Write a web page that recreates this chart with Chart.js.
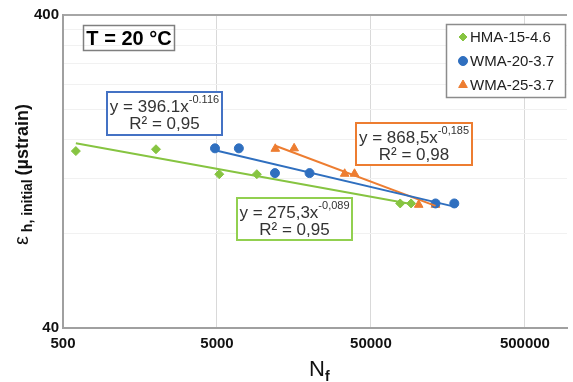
<!DOCTYPE html>
<html>
<head>
<meta charset="utf-8">
<script src="https://cdn.jsdelivr.net/npm/chart.js@4"></script>
<style>
  html, body { margin: 0; padding: 0; background: #fff; }
  #wrap { width: 573px; height: 382px; }
</style>
</head>
<body>
<div id="wrap"><canvas id="chart" width="573" height="382"></canvas></div>
<script>
// tick values
const xTicks = [500, 5000, 50000, 500000];
const yTicks = [40, 80, 120, 160, 200, 240, 280, 320, 360, 400];

// measured points (Nf, strain)
const hmaN = [606, 2008, 5175, 9075, 77450, 91150];
const hmaEps = [147, 149, 124, 124, 100, 100];
const wma20N = [4855, 6936, 11900, 19960, 131300, 173900];
const wma20Eps = [150, 150, 125, 125, 100, 100];
const wma25N = [11960, 15850, 33750, 39100, 102100, 131300];
const wma25Eps = [149.5, 150, 124.4, 124.4, 99, 99];

// fitted power lines, end points
const hmaFitN = [606, 91150];
const hmaFitEps = [155.7, 99.6];
const wma20FitN = [4855, 173900];
const wma20FitEps = [148.0, 97.7];
const wma25FitN = [11960, 131300];
const wma25FitEps = [152.9, 98.2];

const green = '#86c441';
const blue = '#2f6fbf';
const orange = '#ed7d31';
const FONT = '"Liberation Sans", Arial, sans-serif';

const pts = (xs, ys) => xs.map((x, i) => ({ x, y: ys[i] }));

const pointSet = (label, xs, ys, color, style, r) => ({
  label, data: pts(xs, ys), showLine: false,
  pointStyle: style, pointRadius: r, pointHoverRadius: r,
  backgroundColor: color, borderColor: color, borderWidth: 1
});
const fitSet = (xs, ys, color) => ({
  label: 'fit', data: pts(xs, ys), showLine: true, pointRadius: 0,
  borderColor: color, borderWidth: 2, fill: false
});

// boxes, titles and legend drawn on top
const extras = {
  id: 'extras',
  afterDraw(chart) {
    const c = chart.ctx;
    const area = chart.chartArea;
    c.save();
    c.textBaseline = 'alphabetic';

    // T box
    c.strokeStyle = '#7f7f7f'; c.lineWidth = 1.5;
    c.strokeRect(83.5, 25.5, 91, 25);
    c.fillStyle = '#000'; c.font = 'bold 20px ' + FONT; c.textAlign = 'center';
    c.fillText('T = 20 °C', 129, 45);

    // equation boxes
    const eq = (x, y, w, h, color, base, exp, r2) => {
      c.fillStyle = '#fff'; c.fillRect(x, y, w, h);
      c.strokeStyle = color; c.lineWidth = 2; c.strokeRect(x, y, w, h);
      c.fillStyle = '#333'; c.textAlign = 'left';
      c.font = '17px ' + FONT;
      const wb = c.measureText(base).width;
      c.font = '11px ' + FONT;
      const we = c.measureText(exp).width;
      const sx = x + (w - wb - we) / 2;
      c.font = '17px ' + FONT;
      c.fillText(base, sx, y + 20);
      c.font = '11px ' + FONT;
      c.fillText(exp, sx + wb, y + 11);
      c.font = '17px ' + FONT; c.textAlign = 'center';
      c.fillText(r2, x + w / 2, y + 37);
    };
    eq(107, 92, 115, 43, '#4472c4', 'y = 396.1x', '-0.116', 'R² = 0,95');
    eq(356, 123, 116, 42, orange, 'y = 868,5x', '-0,185', 'R² = 0,98');
    eq(237, 198, 115, 42, '#92d050', 'y = 275,3x', '-0,089', 'R² = 0,95');

    // legend
    c.fillStyle = '#fff'; c.fillRect(446, 24, 120, 74);
    c.strokeStyle = '#8c8c8c'; c.lineWidth = 1.5; c.strokeRect(446.5, 24.5, 119, 73);
    const items = [['HMA-15-4.6', green, 'rectRot', 4], ['WMA-20-3.7', blue, 'circle', 4.5], ['WMA-25-3.7', orange, 'triangle', 5]];
    items.forEach((it, i) => {
      const yy = 37 + i * 24;
      c.fillStyle = it[1]; c.strokeStyle = it[1]; c.lineWidth = 1;
      Chart.helpers.drawPoint(c, { pointStyle: it[2], radius: it[3], borderWidth: 1 }, 463, yy);
      c.fillStyle = '#222'; c.font = '15px ' + FONT; c.textAlign = 'left';
      c.fillText(it[0], 470, yy + 5);
    });

    // x title
    c.fillStyle = '#111';
    c.font = '22px ' + FONT;
    const wn = c.measureText('N').width;
    c.textAlign = 'left';
    c.fillText('N', 309, 376);
    c.font = 'bold 14px ' + FONT;
    c.fillText('f', 309 + wn, 381);

    // y title
    c.translate(22, (area.top + area.bottom) / 2 + 3);
    c.rotate(-Math.PI / 2);
    const parts = [['ε', '20px ' + FONT, 0], [' h, initial ', 'bold 14px ' + FONT, 4], ['(µstrain)', 'bold 18px ' + FONT, 0]];
    let total = 0;
    parts.forEach(p => { c.font = p[1]; total += c.measureText(p[0]).width; });
    let px = -total / 2;
    parts.forEach(p => {
      c.font = p[1];
      c.fillText(p[0], px, 6 + p[2]);
      px += c.measureText(p[0]).width;
    });
    c.restore();
  }
};

new Chart(document.getElementById('chart'), {
  type: 'scatter',
  data: {
    datasets: [
      fitSet(hmaFitN, hmaFitEps, green),
      fitSet(wma20FitN, wma20FitEps, blue),
      fitSet(wma25FitN, wma25FitEps, orange),
      pointSet('HMA-15-4.6', hmaN, hmaEps, green, 'rectRot', 4.5),
      pointSet('WMA-20-3.7', wma20N, wma20Eps, blue, 'circle', 4.5),
      pointSet('WMA-25-3.7', wma25N, wma25Eps, orange, 'triangle', 5)
    ]
  },
  options: {
    responsive: false,
    animation: false,
    layout: { padding: { top: 15, right: 0, left: 0, bottom: 0 } },
    plugins: { legend: { display: false }, tooltip: { enabled: false } },
    scales: {
      x: {
        type: 'logarithmic', min: 500, max: 938000,
        afterBuildTicks: s => { s.ticks = xTicks.map(v => ({ value: v })); },
        afterFit: s => { s.height = 54; },
        ticks: {
          autoSkip: false, maxRotation: 0, padding: 7, color: '#111',
          font: { family: FONT, size: 15, weight: 'bold' },
          callback: v => String(v)
        },
        grid: { color: '#d9d9d9', lineWidth: 1, drawTicks: false },
        border: { color: '#a0a0a0', width: 2 }
      },
      y: {
        type: 'logarithmic', min: 40, max: 400,
        afterBuildTicks: s => { s.ticks = yTicks.map(v => ({ value: v })); },
        afterFit: s => { s.width = 63; },
        ticks: {
          autoSkip: false, padding: 4, color: '#111',
          font: { family: FONT, size: 15, weight: 'bold' },
          callback: v => (v === 40 || v === 400) ? String(v) : ''
        },
        grid: {
          drawTicks: false,
          color: ctx => ctx.tick && ctx.tick.value === 400 ? '#a6a6a6' : '#f1f1f1',
          lineWidth: ctx => ctx.tick && ctx.tick.value === 400 ? 2 : 1
        },
        border: { color: '#a0a0a0', width: 2 }
      }
    }
  },
  plugins: [extras]
});
</script>
</body>
</html>
